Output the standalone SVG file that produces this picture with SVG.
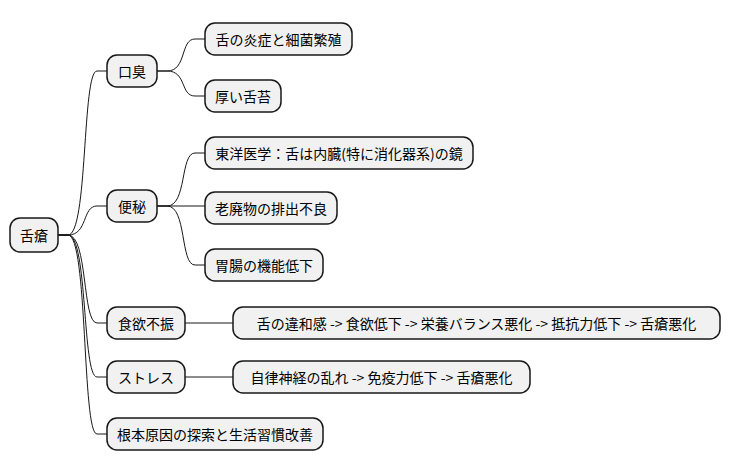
<svg xmlns="http://www.w3.org/2000/svg" width="731" height="471" viewBox="0 0 731 471">
<style>
rect{fill:#f1f1f1;stroke:#181818;stroke-width:1.5}
text{font-family:"Noto Sans CJK JP","Noto Sans",sans-serif;font-size:14px;fill:#000;dominant-baseline:central}
#connectors path{fill:none;stroke:#181818;stroke-width:1}
</style>
<g id="connectors">
<path d="M58,235 H68 C88,235 82,71 97,71 H107"/>
<path d="M58,235 H68 C88,235 82,206 97,206 H107"/>
<path d="M58,235 H68 C88,235 82,323 97,323 H107"/>
<path d="M58,235 H68 C88,235 82,377 97,377 H107"/>
<path d="M58,235 H68 C88,235 82,434 97,434 H107"/>
<path d="M157,71 H167 C187,71 180,39 195,39 H205"/>
<path d="M157,71 H167 C187,71 180,96 195,96 H205"/>
<path d="M157,206 H167 C187,206 180,153 195,153 H205"/>
<path d="M157,206 H205"/>
<path d="M157,206 H167 C187,206 180,265 195,265 H205"/>
<path d="M185,323 H233"/>
<path d="M185,377 H233"/>
</g>
<g id="root"><rect x="10" y="218" width="48" height="34" rx="10"/><text x="34" y="235" text-anchor="middle">舌瘡</text></g>
<g id="n1"><rect x="107" y="55" width="50" height="32" rx="10"/><text x="132" y="71" text-anchor="middle">口臭</text></g>
<g id="n2"><rect x="107" y="190" width="50" height="32" rx="10"/><text x="132" y="206" text-anchor="middle">便秘</text></g>
<g id="n3"><rect x="107" y="307" width="78" height="32" rx="10"/><text x="146" y="323" text-anchor="middle">食欲不振</text></g>
<g id="n4"><rect x="107" y="361" width="78" height="32" rx="10"/><text x="146" y="377" text-anchor="middle">ストレス</text></g>
<g id="n5"><rect x="107" y="418" width="216" height="32" rx="10"/><text x="215" y="434" text-anchor="middle">根本原因の探索と生活習慣改善</text></g>
<g id="n11"><rect x="205" y="23" width="147" height="32" rx="10"/><text x="278.5" y="39" text-anchor="middle">舌の炎症と細菌繁殖</text></g>
<g id="n12"><rect x="205" y="80" width="76" height="32" rx="10"/><text x="243" y="96" text-anchor="middle">厚い舌苔</text></g>
<g id="n21"><rect x="205" y="137" width="268" height="32" rx="10"/><text x="339" y="153" text-anchor="middle">東洋医学：舌は内臓(特に消化器系)の鏡</text></g>
<g id="n22"><rect x="205" y="192" width="132" height="32" rx="10"/><text x="271" y="208" text-anchor="middle">老廃物の排出不良</text></g>
<g id="n23"><rect x="205" y="249" width="118" height="32" rx="10"/><text x="264" y="265" text-anchor="middle">胃腸の機能低下</text></g>
<g id="n31"><rect x="233" y="307" width="487" height="32" rx="10"/><text x="476.5" y="323" text-anchor="middle">舌の違和感 -&gt; 食欲低下 -&gt; 栄養バランス悪化 -&gt; 抵抗力低下 -&gt; 舌瘡悪化</text></g>
<g id="n41"><rect x="233" y="361" width="297" height="32" rx="10"/><text x="381.5" y="377" text-anchor="middle">自律神経の乱れ -&gt; 免疫力低下 -&gt; 舌瘡悪化</text></g>
</svg>
